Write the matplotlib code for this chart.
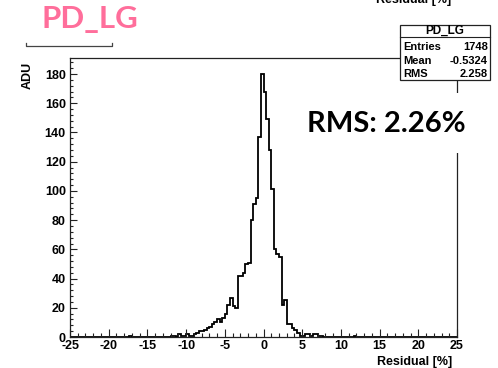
"""Residual histogram for PD_LG, redrawn in a ROOT-like style."""

import matplotlib

matplotlib.use("Agg")
import matplotlib.pyplot as plt
import numpy as np
from matplotlib.lines import Line2D
from matplotlib.patches import Rectangle
from matplotlib.ticker import MultipleLocator

plt.rcParams["axes.unicode_minus"] = False

# Histogram: 150 bins of width 1/3 over [-25, 25]
X_MIN, X_MAX, N_BINS = -25.0, 25.0, 150

# counts per bin, from -12 up to 0
left_counts = [
    1, 1, 0, 2, 1, 1, 2, 1, 1, 2, 3, 4,
    4, 5, 6, 7, 9, 10, 12, 10, 13, 16, 22, 27,
    21, 20, 42, 42, 44, 50, 51, 80, 91, 95, 137, 180,
]
# counts per bin from 0 up to +23/3
right_counts = [
    168, 149, 128, 101, 60, 57, 55, 22, 25, 9, 9, 6,
    5, 3, 1, 1, 2, 2, 1, 2, 2, 1, 1,
]
# isolated entries far out in the tails: (bin low edge, count)
tail_entries = [(-17.33, 1), (11.67, 1)]

stats_title = "PD_LG"
stats_rows = [("Entries", "1748"), ("Mean", "-0.5324"), ("RMS", "2.258")]
x_label = "Residual [%]"
y_label = "ADU"
big_note = "RMS: 2.26%"

TICK_FONT = "Liberation Sans"
NOTE_FONT = ["Lato", "DejaVu Sans"]
PINK = "#ff6e9b"

W, H = 498, 368


def fx(px):
    return px / W


def fy(py):
    return 1 - py / H


def build_counts():
    edges = np.linspace(X_MIN, X_MAX, N_BINS + 1)
    counts = np.zeros(N_BINS)
    step = (X_MAX - X_MIN) / N_BINS
    i0 = int(round((-12 - X_MIN) / step))
    counts[i0:i0 + len(left_counts)] = left_counts
    i1 = int(round((0 - X_MIN) / step))
    counts[i1:i1 + len(right_counts)] = right_counts
    for lo, c in tail_entries:
        counts[int(round((lo - X_MIN) / step))] = c
    return edges, counts


def main():
    edges, counts = build_counts()

    fig = plt.figure(figsize=(W / 100, H / 100), dpi=100)
    ax = fig.add_axes([fx(70), fy(337), fx(457) - fx(70), fy(58) - fy(337)])

    ax.stairs(counts, edges, color="black", lw=1.3, baseline=0)

    ax.set_xlim(X_MIN, X_MAX)
    ax.set_ylim(0, 191)
    ax.xaxis.set_major_locator(MultipleLocator(5))
    ax.xaxis.set_minor_locator(MultipleLocator(1))
    ax.yaxis.set_major_locator(MultipleLocator(20))
    ax.yaxis.set_minor_locator(MultipleLocator(4))
    ax.tick_params(axis="x", which="major", direction="in", length=5.8, width=0.8, pad=2, colors="#222222")
    ax.tick_params(axis="x", which="minor", direction="in", length=2.9, width=0.8, colors="#222222")
    ax.tick_params(axis="y", which="major", direction="in", length=5.0, width=0.8, pad=3, colors="#222222")
    ax.tick_params(axis="y", which="minor", direction="in", length=2.5, width=0.8, colors="#222222")
    for lab in ax.get_xticklabels() + ax.get_yticklabels():
        lab.set_fontfamily(TICK_FONT)
        lab.set_fontweight("bold")
        lab.set_fontsize(9)
        lab.set_color("black")
    for sp in ax.spines.values():
        sp.set_color("#222222")
        sp.set_linewidth(0.9)

    fig.text(fx(452), fy(362), x_label, ha="right", va="center",
             fontfamily=TICK_FONT, fontweight="bold", fontsize=9)
    fig.text(fx(28), fy(75), y_label, ha="center", va="center", rotation=90,
             fontfamily=TICK_FONT, fontweight="bold", fontsize=9)
    # axis title of the chart above, cut by the page edge
    fig.text(fx(451), fy(3), x_label, ha="right", va="baseline",
             fontfamily=TICK_FONT, fontweight="bold", fontsize=9)

    # stats box
    fig.patches.append(Rectangle((fx(400), fy(80)), fx(490) - fx(400), fy(25) - fy(80),
                                 transform=fig.transFigure, facecolor="white",
                                 edgecolor="#222222", lw=0.9, zorder=5))
    fig.lines.append(Line2D([fx(400), fx(490)], [fy(37), fy(37)],
                            transform=fig.transFigure, color="#222222", lw=0.8, zorder=6))
    fig.text(fx(445), fy(31), stats_title, ha="center", va="center", zorder=7,
             fontfamily=TICK_FONT, fontweight="bold", fontsize=8.5)
    for i, (name, val) in enumerate(stats_rows):
        y = fy(47 + 13.7 * i)
        fig.text(fx(403), y, name, ha="left", va="center", zorder=7,
                 fontfamily=TICK_FONT, fontweight="bold", fontsize=8)
        fig.text(fx(488), y, val, ha="right", va="center", zorder=7,
                 fontfamily=TICK_FONT, fontweight="bold", fontsize=8)

    # big RMS note on a white box (hides part of the frame)
    fig.patches.append(Rectangle((fx(300), fy(153)), fx(472) - fx(300), fy(93) - fy(153),
                                 transform=fig.transFigure, facecolor="white",
                                 edgecolor="none", zorder=5))
    fig.text(fx(386.5), fy(124), big_note, ha="center", va="center", zorder=7,
             fontfamily=NOTE_FONT, fontweight="bold", fontsize=21)

    # pink title with bracket underneath
    fig.text(fx(90), fy(19), stats_title, ha="center", va="center", color=PINK,
             fontfamily=NOTE_FONT, fontweight="bold", fontsize=22.5)
    fig.lines.append(Line2D([fx(26), fx(26), fx(112), fx(112)],
                            [fy(43), fy(46), fy(46), fy(43)],
                            transform=fig.transFigure, color="#444444", lw=0.9))

    fig.savefig("out.png", dpi=100)
    plt.close(fig)


if __name__ == "__main__":
    main()
